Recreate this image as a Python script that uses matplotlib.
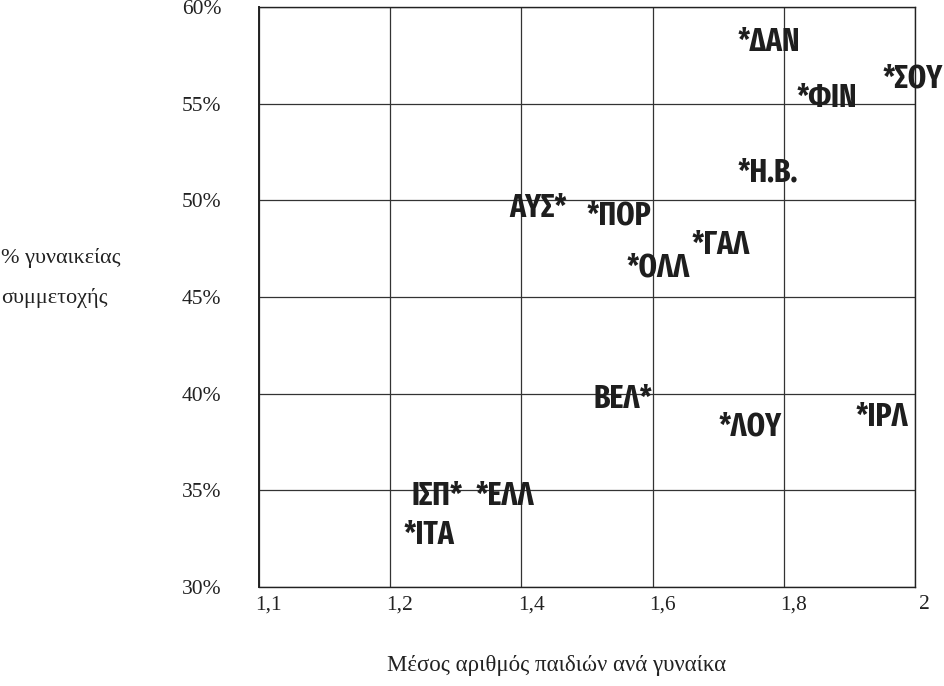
import numpy as np
import matplotlib.pyplot as plt
from matplotlib.transforms import ScaledTranslation

# country labels, the asterisk marks the point
countries = ['*ΔΑΝ', '*ΦΙΝ', '*ΣΟΥ', '*Η.Β.', 'ΑΥΣ*', '*ΠΟΡ', '*ΓΑΛ', '*ΟΛΛ',
             'ΒΕΛ*', '*ΛΟΥ', '*ΙΡΛ', 'ΙΣΠ*', '*ΕΛΛ', '*ΙΤΑ']
fertility = [1.73, 1.82, 1.95, 1.73, 1.47, 1.50, 1.66, 1.56,
             1.60, 1.70, 1.91, 1.31, 1.33, 1.22]
participation = [58.2, 55.3, 56.3, 51.4, 49.6, 49.2, 47.7, 46.5,
                 39.7, 38.3, 38.8, 34.7, 34.7, 32.7]

xticks = [1.1, 1.2, 1.4, 1.6, 1.8, 2.0]
xticklabels = ['1,1', '1,2', '1,4', '1,6', '1,8', '2']
yticks = [30, 35, 40, 45, 50, 55, 60]
yticklabels = ['30%', '35%', '40%', '45%', '50%', '55%', '60%']

serif = ['Liberation Serif', 'DejaVu Serif']
narrow = ['Fira Sans Extra Condensed', 'DejaVu Sans']

# the x axis has equally spaced ticks that are not equally spaced in value
pos = np.arange(len(xticks))
def fwd(x):
    return np.interp(x, xticks, pos)
def inv(p):
    return np.interp(p, pos, xticks)

fig = plt.figure(figsize=(9.44, 6.86), dpi=100)
ax = fig.add_axes([0.2744, 0.1443, 0.6949, 0.8455])
ax.set_xscale('function', functions=(fwd, inv))
ax.set_xlim(1.1, 2.0)
ax.set_ylim(30, 60)

ax.set_xticks(xticks)
ax.set_xticklabels(xticklabels, fontfamily=serif, fontsize=15.5, color='#222222')
ax.set_yticks(yticks)
ax.set_yticklabels(yticklabels, fontfamily=serif, fontsize=15.5, color='#222222')
ax.tick_params(axis='both', length=0)
ax.tick_params(axis='x', pad=6)
ax.tick_params(axis='y', pad=27)
# tick labels of the scan sit a little right of the grid lines
shift = ScaledTranslation(7 / 72, 0, fig.dpi_scale_trans)
for lbl in ax.get_xticklabels():
    lbl.set_transform(lbl.get_transform() + shift)

ax.grid(True, color='#333333', linewidth=0.9)
for s in ax.spines.values():
    s.set_color('#222222')
    s.set_linewidth(1.0)
ax.spines['left'].set_linewidth(1.4)

for name, x, y in zip(countries, fertility, participation):
    ha = 'right' if name.endswith('*') else 'left'
    ax.text(x, y, name, ha=ha, va='center', fontsize=23, fontweight='bold',
            fontstretch='condensed', family=narrow, color='#1e1e1e',
            clip_on=False)

ax.set_xlabel('Μέσος αριθμός παιδιών ανά γυναίκα', fontfamily=serif,
              fontsize=16.5, color='#222222')
ax.xaxis.set_label_coords(0.454, -0.118)
ax.set_ylabel('% γυναικείας\nσυμμετοχής', fontfamily=serif, fontsize=16,
              color='#222222', rotation=0, ha='left', va='center',
              multialignment='left', linespacing=2.3)
ax.yaxis.set_label_coords(-0.393, 0.533)

plt.savefig('out.png', dpi=100)
